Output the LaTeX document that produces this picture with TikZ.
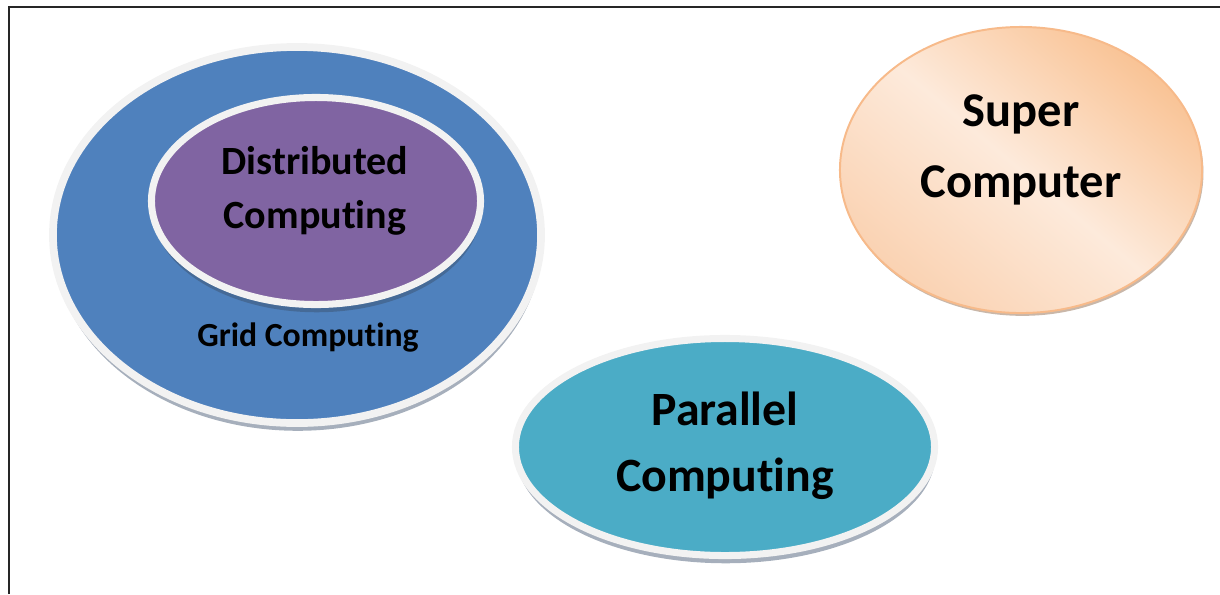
\documentclass[tikz,border=0pt]{standalone}
\usepackage{fontspec}
\setmainfont{Carlito}[Ligatures=NoCommon]
\usepackage{xcolor}
\usepackage{tikz}
\usetikzlibrary{shapes.geometric, shadows, positioning}

\definecolor{gridblue}{HTML}{4F81BD}
\definecolor{distpurple}{HTML}{8064A2}
\definecolor{paralteal}{HTML}{4BACC6}
\definecolor{rimgray}{HTML}{F2F2F2}
\definecolor{peachdark}{HTML}{F9C395}
\definecolor{peachmid}{HTML}{FAD2B2}
\definecolor{peachlight}{HTML}{FDEADB}
\definecolor{peachline}{HTML}{F7BA8A}
\definecolor{shadowblue}{HTML}{3A4E6A}

\begin{document}
\begin{tikzpicture}[
    x=0.025cm, y=-0.025cm,
    blob/.style={ellipse, inner sep=0pt, draw=rimgray, line width=5.5pt,
      drop shadow={shadow xshift=0.5pt, shadow yshift=-5.5pt, fill=shadowblue, opacity=0.45}},
    label/.style={font=\bfseries, align=center, inner sep=0pt}
  ]

    % Frame
    \useasboundingbox (0,0) rectangle (1220,594);
    \draw[line width=1.1pt, black!85] (9,594) -- (9,7) -- (1220,7);

    % Grid Computing
    \node[blob, fill=gridblue, minimum width=12.2cm, minimum height=9.4cm] (grid) at (297,235) {};
    \node[label, font=\bfseries\fontsize{24}{28}\selectfont] (grid-text) at (308,338) {Grid Computing};

    % Distributed Computing
    \node[blob, fill=distpurple, line width=5pt, minimum width=8.225cm, minimum height=5.175cm] (dist) at (316,201) {};
    \node[label, font=\bfseries\fontsize{28.5}{38}\selectfont] (dist-text) at (315,191) {Distributed\\Computing};

    % Parallel Computing
    \node[blob, fill=paralteal, line width=5pt, minimum width=10.475cm, minimum height=5.425cm] (parallel) at (725,447) {};
    \node[label, font=\bfseries\fontsize{34}{47}\selectfont] (parallel-text) at (725,446) {Parallel\\Computing};

    % Super Computer
    \node[ellipse, inner sep=0pt, draw=peachline, line width=1.4pt, minimum width=9.05cm, minimum height=7.15cm,
      top color=peachdark, bottom color=peachmid, middle color=peachlight, shading angle=-40,
      drop shadow={shadow xshift=1pt, shadow yshift=-2pt, fill=black!40!peachline, opacity=0.5}] (super) at (1021,170) {};
    \node[label, font=\bfseries\fontsize{34.5}{51}\selectfont] (super-text) at (1021,150) {Super\\Computer};

  \end{tikzpicture}
\end{document}
